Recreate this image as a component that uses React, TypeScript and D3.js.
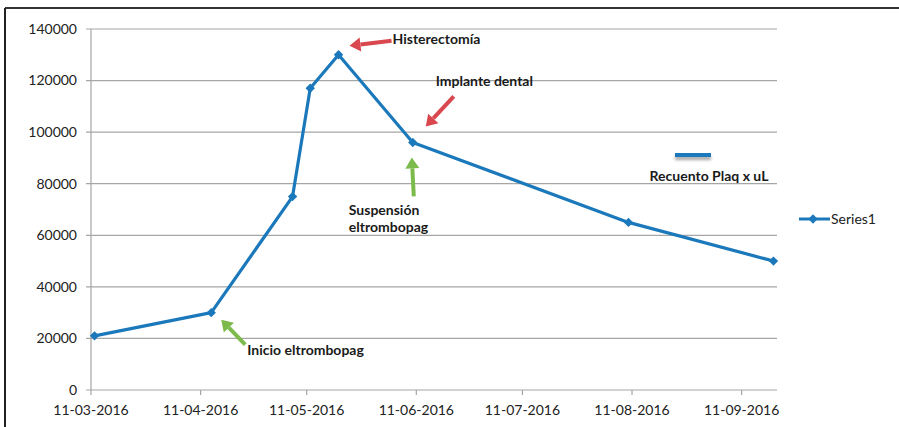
import React from "react";
import * as d3 from "d3";

const dates = ["2016-03-12", "2016-04-14", "2016-05-07", "2016-05-12", "2016-05-20", "2016-06-10", "2016-08-10", "2016-09-20"];
const values = [21000, 30000, 75000, 117000, 130000, 96000, 65000, 50000];
const yTicks = [0, 20000, 40000, 60000, 80000, 100000, 120000, 140000];
const xTickDates = ["2016-03-11", "2016-04-11", "2016-05-11", "2016-06-11", "2016-07-11", "2016-08-11", "2016-09-11"];
const xDomain = ["2016-03-11", "2016-09-21"];
const seriesName = "Series1";
const insetLabel = "Recuento Plaq x uL";

type Ann = { text: string[]; idx: number; color: string; tip: [number, number]; tail: [number, number]; tx: number; ty: number };
const annotations: Ann[] = [
  { text: ["Histerectomía"], idx: 4, color: "#d9474f", tip: [11, -9], tail: [53, -14], tx: 54, ty: -16 },
  { text: ["Implante dental"], idx: 5, color: "#d9474f", tip: [13, -16], tail: [41, -46], tx: 23, ty: -61 },
  { text: ["Suspensión", "eltrombopag"], idx: 5, color: "#7dba4c", tip: [-1, 15], tail: [1, 54], tx: -64, ty: 68 },
  { text: ["Inicio eltrombopag"], idx: 1, color: "#7dba4c", tip: [10, 7], tail: [34, 32], tx: 36, ty: 37 },
];

const parse = (s: string) => new Date(s + "T00:00:00");
const fmt = d3.timeFormat("%d-%m-%Y");
const BLUE = "#1b79bb";
const FONT = "Lato, 'Open Sans', sans-serif";
const FS = 14;

function Arrow({ x1, y1, x2, y2, color }: { x1: number; y1: number; x2: number; y2: number; color: string }) {
  const ang = Math.atan2(y2 - y1, x2 - x1);
  const hl = 11, hw = 7;
  const bx = x2 - hl * Math.cos(ang), by = y2 - hl * Math.sin(ang);
  const px = -Math.sin(ang) * hw, py = Math.cos(ang) * hw;
  return (
    <g>
      <line x1={x1} y1={y1} x2={bx} y2={by} stroke={color} strokeWidth={4} />
      <path d={`M${x2},${y2} L${bx + px},${by + py} L${bx - px},${by - py} Z`} fill={color} />
    </g>
  );
}

export default function App() {
  const left = 91, right = 777, top = 29, bottom = 390;
  const x = d3.scaleTime().domain(xDomain.map(parse)).range([left, right]);
  const y = d3.scaleLinear().domain([0, 140000]).range([bottom, top]);
  const pts = dates.map((d, i) => [x(parse(d)), y(values[i])] as [number, number]);
  const line = d3.line()(pts) || "";
  const diamond = d3.symbol().type(d3.symbolSquare).size(44)() || "";

  return (
    <svg width={899} height={427} style={{ position: "absolute", left: 0, top: 0, background: "#fff" }} fontFamily={FONT}>
      <defs>
        <filter id="sh" filterUnits="userSpaceOnUse" x="660" y="140" width="70" height="35">
          <feGaussianBlur in="SourceAlpha" stdDeviation="1.5" />
          <feOffset dx="0" dy="2.5" result="b" />
          <feComponentTransfer><feFuncA type="linear" slope="0.35" /></feComponentTransfer>
          <feMerge><feMergeNode /><feMergeNode in="SourceGraphic" /></feMerge>
        </filter>
      </defs>
      {/* frame */}
      <line x1={5} y1={8} x2={899} y2={8} stroke="#333" strokeWidth={2} />
      <line x1={5} y1={8} x2={5} y2={427} stroke="#222" strokeWidth={2} />
      {/* grid */}
      {yTicks.map((t) => (
        <g key={t}>
          <line x1={left - 5} x2={right} y1={y(t)} y2={y(t)} stroke="#a6a6a6" strokeWidth={1.2} />
          <text x={77} y={y(t)} dy="0.35em" textAnchor="end" fontSize={FS} fill="#222">{t}</text>
        </g>
      ))}
      <line x1={left} x2={left} y1={top} y2={bottom} stroke="#a6a6a6" strokeWidth={1.2} />
      {xTickDates.map((d) => {
        const xx = x(parse(d));
        return (
          <g key={d}>
            <line x1={xx} x2={xx} y1={bottom} y2={bottom + 5} stroke="#a6a6a6" strokeWidth={1.2} />
            <text x={xx} y={410} dy="0.35em" textAnchor="middle" fontSize={FS} fill="#222">{fmt(parse(d))}</text>
          </g>
        );
      })}
      {/* series */}
      <path d={line} fill="none" stroke={BLUE} strokeWidth={3.2} strokeLinejoin="round" />
      {pts.map((p, i) => (
        <path key={i} d={diamond} transform={`translate(${p[0]},${p[1]}) rotate(45)`} fill={BLUE} />
      ))}
      {/* annotations */}
      {annotations.map((a, i) => {
        const [px, py] = pts[a.idx];
        return (
          <g key={i}>
            <Arrow x1={px + a.tail[0]} y1={py + a.tail[1]} x2={px + a.tip[0]} y2={py + a.tip[1]} color={a.color} />
            {a.text.map((t, j) => (
              <text key={j} x={px + a.tx} y={py + a.ty + j * 17} dy="0.35em" fontSize={FS} fontWeight="bold" fill="#1a1a1a">{t}</text>
            ))}
          </g>
        );
      })}
      {/* inset legend */}
      <line x1={675} x2={711} y1={155} y2={155} stroke={BLUE} strokeWidth={4} filter="url(#sh)" />
      <text x={709} y={176} dy="0.35em" textAnchor="middle" fontSize={FS} fontWeight="bold" fill="#1a1a1a">{insetLabel}</text>
      {/* legend */}
      <line x1={799} x2={830} y1={219} y2={219} stroke={BLUE} strokeWidth={3} />
      <path d={diamond} transform="translate(813,219) rotate(45)" fill={BLUE} />
      <text x={831} y={219} dy="0.35em" fontSize={FS} fill="#222">{seriesName}</text>
    </svg>
  );
}
